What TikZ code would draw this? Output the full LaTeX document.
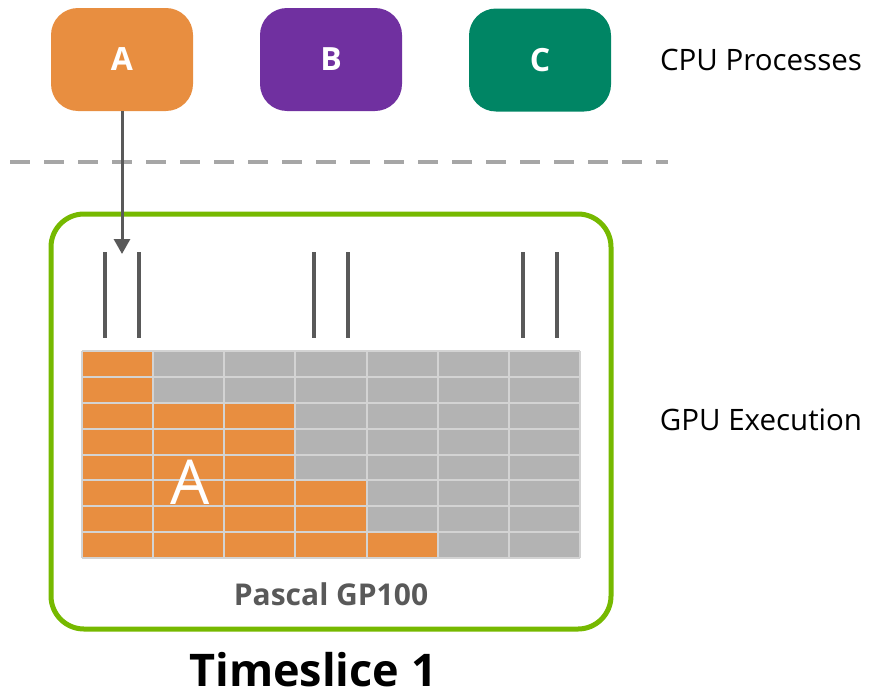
\documentclass[tikz,border=0pt]{standalone}
\usepackage{fontspec}
\setmainfont{Open Sans}
\usetikzlibrary{arrows.meta}
\definecolor{procA}{HTML}{E88E40}
\definecolor{procB}{HTML}{7030A0}
\definecolor{procC}{HTML}{008564}
\definecolor{cellgray}{HTML}{B3B3B3}
\definecolor{gridline}{HTML}{D3D3D3}
\definecolor{darkline}{HTML}{595959}
\definecolor{dashgray}{HTML}{A6A6A6}
\definecolor{nvgreen}{HTML}{76B900}
\tikzset{
  procbox/.style={rounded corners=27pt, minimum width=142pt, minimum height=103pt,
    inner sep=0pt, text=white, font=\fontsize{32}{38}\selectfont\bfseries},
  label/.style={font=\fontsize{29.5}{35}\selectfont, text=black, inner sep=0pt},
  tick/.style={draw=darkline, line width=4pt},
  arr/.style={draw=darkline, line width=3pt, -{Triangle[length=15pt,width=16pt]}},
}
\begin{document}
\begin{tikzpicture}[x=1pt,y=-1pt]
\useasboundingbox (0,0) rectangle (872,696);
% CPU processes
\node[procbox, fill=procA] (A) at (122,59.5) {A};
\node[procbox, fill=procB] (B) at (331,59.5) {B};
\node[procbox, fill=procC] (C) at (540,60) {C};
\node[label] (cpu) at (761,60) {CPU Processes};
% separator
\draw[dashgray, line width=4pt, dash pattern=on 20pt off 14pt] (10,162) -- (668,162);
% GPU container
\node[draw=nvgreen, line width=5pt, rounded corners=33pt, minimum width=560pt,
  minimum height=415pt, inner sep=0pt] (gpu) at (331,421.5) {};
\node[label] (gpuexec) at (761,420) {GPU Execution};
% ticks
\foreach \x/\n in {105/t1,139/t2,314/t3,348/t4,523/t5,557/t6}{
  \coordinate (\n a) at (\x,252);
  \coordinate (\n b) at (\x,338);
  \draw[tick] (\n a) -- (\n b);
}
% arrow
\coordinate (tip) at (122,254);
\draw[arr] (A.south) -- (tip);
% grid
\def\cw{71.143}
\def\rh{25.875}
\fill[cellgray] (82,351) rectangle (580,558);
\foreach \r/\n in {0/1,1/1,2/3,3/3,4/3,5/4,6/4,7/5}{
  \fill[procA] (82,{351+\r*\rh}) rectangle ({82+\n*\cw},{351+(\r+1)*\rh});
}
\foreach \c in {0,...,7}{
  \draw[gridline, line width=2pt] ({82+\c*\cw},351) -- ({82+\c*\cw},558);
}
\foreach \r in {0,...,8}{
  \draw[gridline, line width=2pt] (82,{351+\r*\rh}) -- (580,{351+\r*\rh});
}
\node[text=white, font=\fontsize{62}{70}\selectfont, inner sep=0pt] (bigA) at (190,482) {A};
\node[text=darkline, font=\fontsize{30}{36}\selectfont\bfseries, inner sep=0pt] (pascal) at (331,594) {Pascal GP100};
\node[text=black, font=\fontsize{45}{54}\selectfont\bfseries, inner sep=0pt] (ts) at (313,670) {Timeslice 1};
\end{tikzpicture}
\end{document}
